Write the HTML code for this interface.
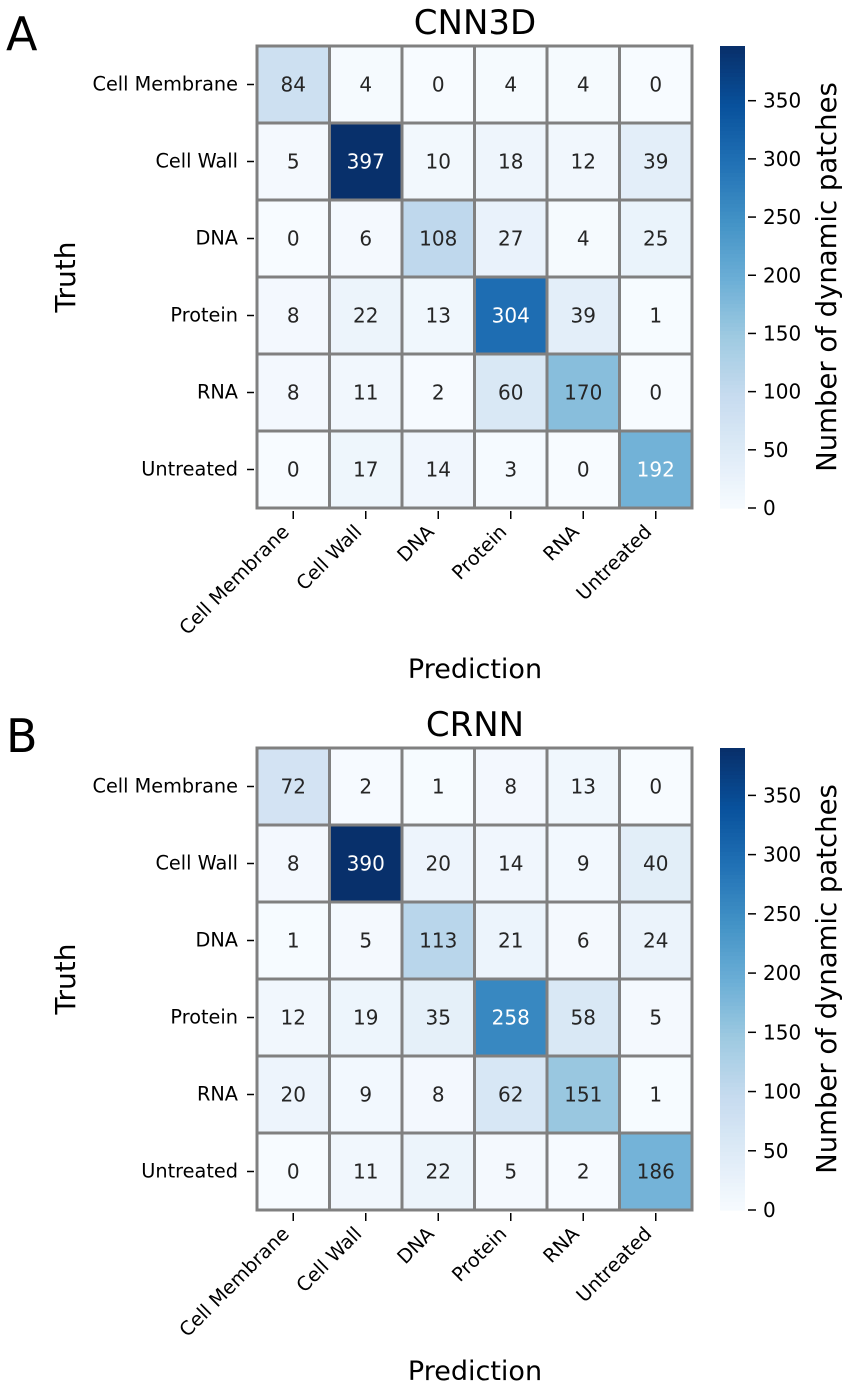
<!DOCTYPE html>
<html><head><meta charset="utf-8"><style>
body{margin:0;background:#fff;}
svg text{font-family:"DejaVu Sans","Liberation Sans",sans-serif;}
</style></head><body>
<svg id="fig" width="851" height="1392" xmlns="http://www.w3.org/2000/svg"></svg>
<script>
const categories=["Cell Membrane","Cell Wall","DNA","Protein","RNA","Untreated"];
const valuesA=[[84,4,0,4,4,0],[5,397,10,18,12,39],[0,6,108,27,4,25],[8,22,13,304,39,1],[8,11,2,60,170,0],[0,17,14,3,0,192]];
const valuesB=[[72,2,1,8,13,0],[8,390,20,14,9,40],[1,5,113,21,6,24],[12,19,35,258,58,5],[20,9,8,62,151,1],[0,11,22,5,2,186]];
const cbTicks=[0,50,100,150,200,250,300,350];
const titles=["CNN3D","CRNN"];
const letters=["A","B"];

const NS="http://www.w3.org/2000/svg";
const svg=document.getElementById('fig');
const stops=["#f7fbff","#deebf7","#c6dbef","#9ecae1","#6baed6","#4292c6","#2171b5","#08519c","#08306b"].map(h=>[parseInt(h.slice(1,3),16),parseInt(h.slice(3,5),16),parseInt(h.slice(5,7),16)]);
function cmap(t){t=Math.max(0,Math.min(1,t));const p=t*(stops.length-1);const i=Math.min(Math.floor(p),stops.length-2);const f=p-i;
 return stops[i].map((c,k)=>Math.round(c+(stops[i+1][k]-c)*f));}
function rgb(c){return `rgb(${c[0]},${c[1]},${c[2]})`;}
function lum(c){const l=c.map(v=>{v/=255;return v<=0.03928?v/12.92:Math.pow((v+0.055)/1.055,2.4)});return 0.2126*l[0]+0.7152*l[1]+0.0722*l[2];}
function el(tag,attrs,parent){const e=document.createElementNS(NS,tag);for(const k in attrs)e.setAttribute(k,attrs[k]);(parent||svg).appendChild(e);return e;}

function panel(vals,top,idx){
 const g=el('g',{});
 
 
 const L=257,R=692,T=top,B=top+462;
 const cw=(R-L)/6,ch=(B-T)/6;
 const vmax=Math.max(...vals.flat());
 const xS=j=>L+j*cw, yS=i=>T+i*ch;
 let t=el('text',{x:6,y:top+4,'font-size':46,fill:'#000'},g);t.textContent=letters[idx];
 
 t=el('text',{x:475,y:top-12,'font-size':34,'text-anchor':'middle',fill:'#000'},g);t.textContent=titles[idx];
 
 for(let i=0;i<6;i++)for(let j=0;j<6;j++){
  const v=vals[i][j],c=cmap(v/vmax);
  const r=el('rect',{x:xS(j),y:yS(i),width:cw,height:ch,fill:rgb(c),stroke:'#808080','stroke-width':3},g);
  
  const tx=el('text',{x:xS(j)+cw/2,y:yS(i)+ch/2+7,'font-size':20,'text-anchor':'middle',fill:lum(c)<0.408?'#fff':'#262626'},g);
  tx.textContent=v;
  
 }
 categories.forEach((c,i)=>{
  const y=yS(i)+ch/2;
  el('line',{x1:L-10,x2:L-3,y1:y,y2:y,stroke:'#000','stroke-width':1.5},g);
  const tx=el('text',{x:L-19,y:y+6,'font-size':19.3,'text-anchor':'end',fill:'#000'},g);tx.textContent=c;
  
 });
 categories.forEach((c,j)=>{
  const x=xS(j)+cw/2;
  el('line',{x1:x,x2:x,y1:B+3,y2:B+11,stroke:'#000','stroke-width':1.5},g);
  const tx=el('text',{x:x-3,y:B+25,'font-size':19.3,'text-anchor':'end',fill:'#000',transform:`rotate(-45 ${x-3} ${B+25})`},g);tx.textContent=c;
  
 });
 t=el('text',{x:475,y:B+170,'font-size':27,'text-anchor':'middle',fill:'#000'},g);t.textContent='Prediction';
 
 t=el('text',{x:75,y:(T+B)/2,'font-size':28,'text-anchor':'middle',fill:'#000',transform:`rotate(-90 75 ${(T+B)/2})`},g);t.textContent='Truth';
 
 const cx=720,cwid=25;
 const N=120;
 for(let k=0;k<N;k++){
  const r=el('rect',{x:cx,y:T+(B-T)*k/N,width:cwid,height:(B-T)/N+0.6,fill:rgb(cmap(1-k/N))},g);
  
 }
 cbTicks.forEach(v=>{
  const y=B-(B-T)*v/vmax;
  el('line',{x1:cx+cwid+3,x2:cx+cwid+11,y1:y,y2:y,stroke:'#000','stroke-width':1.5},g);
  const tx=el('text',{x:cx+cwid+18,y:y+7,'font-size':20,fill:'#000'},g);tx.textContent=v;
  
 });
 t=el('text',{x:836,y:(T+B)/2,'font-size':27.5,'text-anchor':'middle',fill:'#000',transform:`rotate(-90 836 ${(T+B)/2})`},g);t.textContent='Number of dynamic patches';
 
}
panel(valuesA,46,0);
panel(valuesB,748,1);
</script>
</body></html>
